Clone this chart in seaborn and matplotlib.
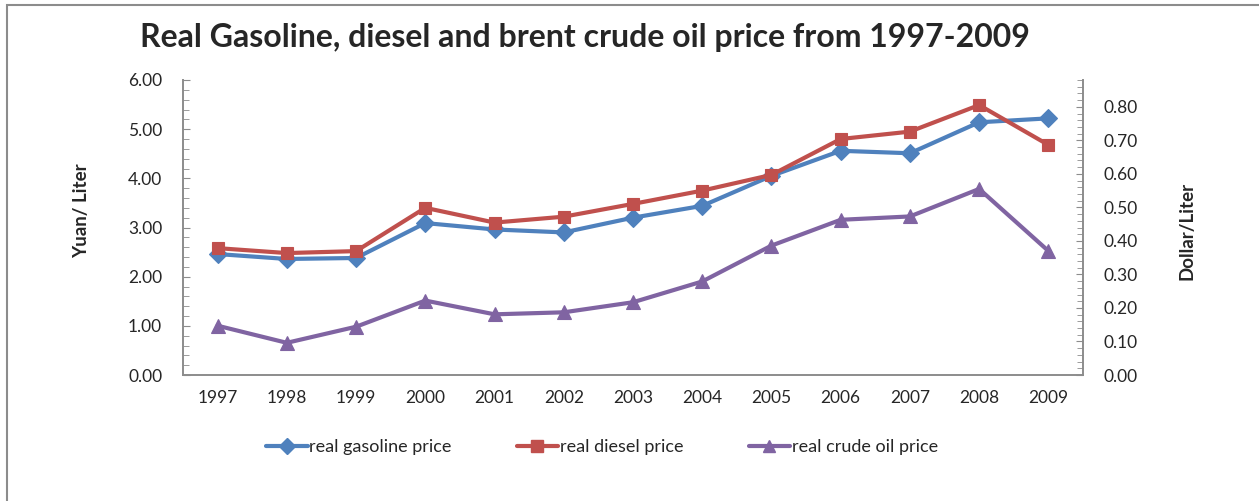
import matplotlib
matplotlib.use("Agg")
import matplotlib.pyplot as plt
import seaborn as sns
import pandas as pd
from matplotlib.ticker import MultipleLocator, FormatStrFormatter
from matplotlib.lines import Line2D
from matplotlib.patches import Rectangle

# ==========================================
# data
# ==========================================
years = ["1997", "1998", "1999", "2000", "2001", "2002", "2003",
         "2004", "2005", "2006", "2007", "2008", "2009"]
gasoline = [2.46, 2.36, 2.38, 3.09, 2.96, 2.90, 3.20, 3.44, 4.05, 4.56, 4.51, 5.14, 5.22]
diesel = [2.58, 2.48, 2.52, 3.40, 3.10, 3.22, 3.48, 3.75, 4.07, 4.80, 4.95, 5.49, 4.68]
crude = [0.147, 0.096, 0.144, 0.222, 0.181, 0.187, 0.217, 0.279, 0.386, 0.463, 0.473, 0.555, 0.370]

labels = ["real gasoline price", "real diesel price", "real crude oil price"]
colors = ["#4F81BD", "#C0504D", "#8064A2"]
marks = ["D", "s", "^"]

sns.set_style("white")
plt.rcParams['font.family'] = ['Lato', 'DejaVu Sans']

df = pd.DataFrame({"year": years, "gasoline": gasoline, "diesel": diesel, "crude": crude})

fig = plt.figure(figsize=(12.59, 5.01), dpi=100)
ax = fig.add_axes([183 / 1259, 1 - 375 / 501, 900 / 1259, 295 / 501])
ax2 = ax.twinx()

line_kw = dict(linewidth=3, markersize=9, markeredgewidth=0.8)
sns.lineplot(data=df, x="year", y="gasoline", ax=ax, color=colors[0], marker=marks[0],
             markeredgecolor=colors[0], sort=False, **line_kw)
sns.lineplot(data=df, x="year", y="diesel", ax=ax, color=colors[1], marker=marks[1],
             markeredgecolor=colors[1], sort=False, **line_kw)
sns.lineplot(data=df, x="year", y="crude", ax=ax2, color=colors[2], marker=marks[2],
             markeredgecolor=colors[2], sort=False, markersize=10, linewidth=3, markeredgewidth=0.8)

ax.set_xlim(-0.5, len(years) - 0.5)
ax.set_ylim(0, 6)
ax2.set_ylim(0, 0.88)

ax.yaxis.set_major_locator(MultipleLocator(1))
ax.yaxis.set_minor_locator(MultipleLocator(0.2))
ax.yaxis.set_major_formatter(FormatStrFormatter('%.2f'))
ax2.yaxis.set_major_locator(MultipleLocator(0.1))
ax2.yaxis.set_minor_locator(MultipleLocator(0.02))
ax2.yaxis.set_major_formatter(FormatStrFormatter('%.2f'))

spine_c = "#8c8c8c"
for a in (ax, ax2):
    a.set_xlabel("")
    a.set_ylabel("")
    a.spines['top'].set_visible(False)
    for s in ('left', 'right', 'bottom'):
        a.spines[s].set_color(spine_c)
        a.spines[s].set_linewidth(1.4)

ax.spines['right'].set_visible(False)
ax2.spines['left'].set_visible(False)
ax2.spines['bottom'].set_visible(False)

ax.tick_params(axis='x', length=0, pad=11, labelsize=12.5)
ax.tick_params(axis='y', which='both', direction='in', length=4, color=spine_c,
               labelsize=12.5, pad=15)
ax.tick_params(axis='y', which='major', length=5)
ax2.tick_params(axis='y', which='both', direction='in', length=4, color=spine_c,
                labelsize=12.5, pad=15)
ax2.tick_params(axis='y', which='major', length=5)

fig.text(585 / 1259, 1 - 38 / 501, "Real Gasoline, diesel and brent crude oil price from 1997-2009",
         ha='center', va='center', fontsize=23, fontweight='bold')
fig.text(82 / 1259, 1 - 211 / 501, "Yuan/ Liter", rotation=90, ha='center', va='center',
         fontsize=13.5, fontweight='bold')
fig.text(1187 / 1259, 1 - 231 / 501, "Dollar/Liter", rotation=90, ha='center', va='center',
         fontsize=13.5, fontweight='bold')

handles = [Line2D([], [], color=c, marker=m, linewidth=3, markersize=8, markeredgecolor=c)
           for c, m in zip(colors, marks)]
fig.legend(handles, labels, loc='center', bbox_to_anchor=(602 / 1259, 1 - 447 / 501),
           ncol=3, frameon=False, fontsize=13, handlelength=2.3, handletextpad=0.1,
           columnspacing=3.6)

# chart area border (only left and top edges fall inside the picture)
fig.add_artist(Rectangle((7 / 1259, -0.5), 2, 0.99 + 0.5, fill=False,
                         edgecolor=spine_c, linewidth=1.5, transform=fig.transFigure))

fig.savefig("out.png", dpi=100)
